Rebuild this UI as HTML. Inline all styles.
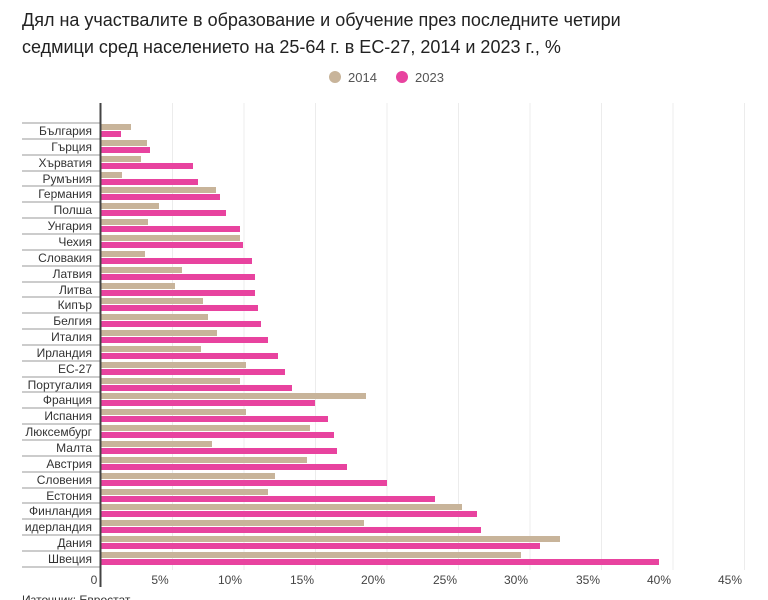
<!DOCTYPE html>
<html><head><meta charset="utf-8"><style>
body{margin:0;background:#fff;}
svg{display:block;font-family:"Liberation Sans",sans-serif;}
</style></head><body>
<svg width="768" height="600" viewBox="0 0 768 600" xmlns="http://www.w3.org/2000/svg">
<text x="22" y="26" font-size="18" fill="#222">Дял на участвалите в образование и обучение през последните четири</text>
<text x="22" y="53" font-size="18" fill="#222">седмици сред населението на 25-64 г. в ЕС-27, 2014 и 2023 г., %</text>
<circle cx="335" cy="77" r="6" fill="#c8b49a"/><text x="348" y="82" font-size="13" fill="#555">2014</text>
<circle cx="402" cy="77" r="6" fill="#e8439f"/><text x="415" y="82" font-size="13" fill="#555">2023</text>
<g stroke="#ececec" stroke-width="1">
<line x1="172.5" y1="103" x2="172.5" y2="570"/><line x1="244" y1="103" x2="244" y2="570"/><line x1="315.5" y1="103" x2="315.5" y2="570"/><line x1="387" y1="103" x2="387" y2="570"/><line x1="458.5" y1="103" x2="458.5" y2="570"/><line x1="530" y1="103" x2="530" y2="570"/><line x1="601.5" y1="103" x2="601.5" y2="570"/><line x1="673" y1="103" x2="673" y2="570"/><line x1="744.5" y1="103" x2="744.5" y2="570"/>
</g>
<g font-size="12" fill="#444" text-anchor="middle">
<text x="94" y="584">0</text><text x="160" y="584">5%</text><text x="230" y="584">10%</text><text x="302" y="584">15%</text><text x="373" y="584">20%</text><text x="445" y="584">25%</text><text x="516" y="584">30%</text><text x="588" y="584">35%</text><text x="659" y="584">40%</text><text x="730" y="584">45%</text>
</g>
<g font-size="12" fill="#333" text-anchor="end">
<g transform="translate(0,131)"><line x1="22" y1="-8" x2="100" y2="-8" stroke="#999"/><rect x="101" y="-7" width="30" height="6" fill="#c8b49a"/><rect x="101" y="0" width="20" height="6" fill="#e8439f"/><text x="92" y="4">България</text></g>
<g transform="translate(0,147)"><line x1="22" y1="-8" x2="100" y2="-8" stroke="#999"/><rect x="101" y="-7" width="46" height="6" fill="#c8b49a"/><rect x="101" y="0" width="49" height="6" fill="#e8439f"/><text x="92" y="4">Гърция</text></g>
<g transform="translate(0,163)"><line x1="22" y1="-8" x2="100" y2="-8" stroke="#999"/><rect x="101" y="-7" width="40" height="6" fill="#c8b49a"/><rect x="101" y="0" width="92" height="6" fill="#e8439f"/><text x="92" y="4">Хърватия</text></g>
<g transform="translate(0,179)"><line x1="22" y1="-8" x2="100" y2="-8" stroke="#999"/><rect x="101" y="-7" width="21" height="6" fill="#c8b49a"/><rect x="101" y="0" width="97" height="6" fill="#e8439f"/><text x="92" y="4">Румъния</text></g>
<g transform="translate(0,194)"><line x1="22" y1="-8" x2="100" y2="-8" stroke="#999"/><rect x="101" y="-7" width="115" height="6" fill="#c8b49a"/><rect x="101" y="0" width="119" height="6" fill="#e8439f"/><text x="92" y="4">Германия</text></g>
<g transform="translate(0,210)"><line x1="22" y1="-8" x2="100" y2="-8" stroke="#999"/><rect x="101" y="-7" width="58" height="6" fill="#c8b49a"/><rect x="101" y="0" width="125" height="6" fill="#e8439f"/><text x="92" y="4">Полша</text></g>
<g transform="translate(0,226)"><line x1="22" y1="-8" x2="100" y2="-8" stroke="#999"/><rect x="101" y="-7" width="47" height="6" fill="#c8b49a"/><rect x="101" y="0" width="139" height="6" fill="#e8439f"/><text x="92" y="4">Унгария</text></g>
<g transform="translate(0,242)"><line x1="22" y1="-8" x2="100" y2="-8" stroke="#999"/><rect x="101" y="-7" width="139" height="6" fill="#c8b49a"/><rect x="101" y="0" width="142" height="6" fill="#e8439f"/><text x="92" y="4">Чехия</text></g>
<g transform="translate(0,258)"><line x1="22" y1="-8" x2="100" y2="-8" stroke="#999"/><rect x="101" y="-7" width="44" height="6" fill="#c8b49a"/><rect x="101" y="0" width="151" height="6" fill="#e8439f"/><text x="92" y="4">Словакия</text></g>
<g transform="translate(0,274)"><line x1="22" y1="-8" x2="100" y2="-8" stroke="#999"/><rect x="101" y="-7" width="81" height="6" fill="#c8b49a"/><rect x="101" y="0" width="154" height="6" fill="#e8439f"/><text x="92" y="4">Латвия</text></g>
<g transform="translate(0,290)"><line x1="22" y1="-8" x2="100" y2="-8" stroke="#999"/><rect x="101" y="-7" width="74" height="6" fill="#c8b49a"/><rect x="101" y="0" width="154" height="6" fill="#e8439f"/><text x="92" y="4">Литва</text></g>
<g transform="translate(0,305)"><line x1="22" y1="-8" x2="100" y2="-8" stroke="#999"/><rect x="101" y="-7" width="102" height="6" fill="#c8b49a"/><rect x="101" y="0" width="157" height="6" fill="#e8439f"/><text x="92" y="4">Кипър</text></g>
<g transform="translate(0,321)"><line x1="22" y1="-8" x2="100" y2="-8" stroke="#999"/><rect x="101" y="-7" width="107" height="6" fill="#c8b49a"/><rect x="101" y="0" width="160" height="6" fill="#e8439f"/><text x="92" y="4">Белгия</text></g>
<g transform="translate(0,337)"><line x1="22" y1="-8" x2="100" y2="-8" stroke="#999"/><rect x="101" y="-7" width="116" height="6" fill="#c8b49a"/><rect x="101" y="0" width="167" height="6" fill="#e8439f"/><text x="92" y="4">Италия</text></g>
<g transform="translate(0,353)"><line x1="22" y1="-8" x2="100" y2="-8" stroke="#999"/><rect x="101" y="-7" width="100" height="6" fill="#c8b49a"/><rect x="101" y="0" width="177" height="6" fill="#e8439f"/><text x="92" y="4">Ирландия</text></g>
<g transform="translate(0,369)"><line x1="22" y1="-8" x2="100" y2="-8" stroke="#999"/><rect x="101" y="-7" width="145" height="6" fill="#c8b49a"/><rect x="101" y="0" width="184" height="6" fill="#e8439f"/><text x="92" y="4">ЕС-27</text></g>
<g transform="translate(0,385)"><line x1="22" y1="-8" x2="100" y2="-8" stroke="#999"/><rect x="101" y="-7" width="139" height="6" fill="#c8b49a"/><rect x="101" y="0" width="191" height="6" fill="#e8439f"/><text x="92" y="4">Португалия</text></g>
<g transform="translate(0,400)"><line x1="22" y1="-8" x2="100" y2="-8" stroke="#999"/><rect x="101" y="-7" width="265" height="6" fill="#c8b49a"/><rect x="101" y="0" width="214" height="6" fill="#e8439f"/><text x="92" y="4">Франция</text></g>
<g transform="translate(0,416)"><line x1="22" y1="-8" x2="100" y2="-8" stroke="#999"/><rect x="101" y="-7" width="145" height="6" fill="#c8b49a"/><rect x="101" y="0" width="227" height="6" fill="#e8439f"/><text x="92" y="4">Испания</text></g>
<g transform="translate(0,432)"><line x1="22" y1="-8" x2="100" y2="-8" stroke="#999"/><rect x="101" y="-7" width="209" height="6" fill="#c8b49a"/><rect x="101" y="0" width="233" height="6" fill="#e8439f"/><text x="92" y="4">Люксембург</text></g>
<g transform="translate(0,448)"><line x1="22" y1="-8" x2="100" y2="-8" stroke="#999"/><rect x="101" y="-7" width="111" height="6" fill="#c8b49a"/><rect x="101" y="0" width="236" height="6" fill="#e8439f"/><text x="92" y="4">Малта</text></g>
<g transform="translate(0,464)"><line x1="22" y1="-8" x2="100" y2="-8" stroke="#999"/><rect x="101" y="-7" width="206" height="6" fill="#c8b49a"/><rect x="101" y="0" width="246" height="6" fill="#e8439f"/><text x="92" y="4">Австрия</text></g>
<g transform="translate(0,480)"><line x1="22" y1="-8" x2="100" y2="-8" stroke="#999"/><rect x="101" y="-7" width="174" height="6" fill="#c8b49a"/><rect x="101" y="0" width="286" height="6" fill="#e8439f"/><text x="92" y="4">Словения</text></g>
<g transform="translate(0,496)"><line x1="22" y1="-8" x2="100" y2="-8" stroke="#999"/><rect x="101" y="-7" width="167" height="6" fill="#c8b49a"/><rect x="101" y="0" width="334" height="6" fill="#e8439f"/><text x="92" y="4">Естония</text></g>
<g transform="translate(0,511)"><line x1="22" y1="-8" x2="100" y2="-8" stroke="#999"/><rect x="101" y="-7" width="361" height="6" fill="#c8b49a"/><rect x="101" y="0" width="376" height="6" fill="#e8439f"/><text x="92" y="4">Финландия</text></g>
<g transform="translate(0,527)"><line x1="22" y1="-8" x2="100" y2="-8" stroke="#999"/><rect x="101" y="-7" width="263" height="6" fill="#c8b49a"/><rect x="101" y="0" width="380" height="6" fill="#e8439f"/><text x="92" y="4">идерландия</text></g>
<g transform="translate(0,543)"><line x1="22" y1="-8" x2="100" y2="-8" stroke="#999"/><rect x="101" y="-7" width="459" height="6" fill="#c8b49a"/><rect x="101" y="0" width="439" height="6" fill="#e8439f"/><text x="92" y="4">Дания</text></g>
<g transform="translate(0,559)"><line x1="22" y1="-8" x2="100" y2="-8" stroke="#999"/><rect x="101" y="-7" width="420" height="6" fill="#c8b49a"/><rect x="101" y="0" width="558" height="6" fill="#e8439f"/><text x="92" y="4">Швеция</text></g>
</g>
<line x1="22" y1="567" x2="100" y2="567" stroke="#999"/>
<line x1="100.5" y1="103" x2="100.5" y2="587" stroke="#444" stroke-width="2"/>
<text x="22" y="604" font-size="12" fill="#333">Източник: Евростат</text>
</svg>
</body></html>
